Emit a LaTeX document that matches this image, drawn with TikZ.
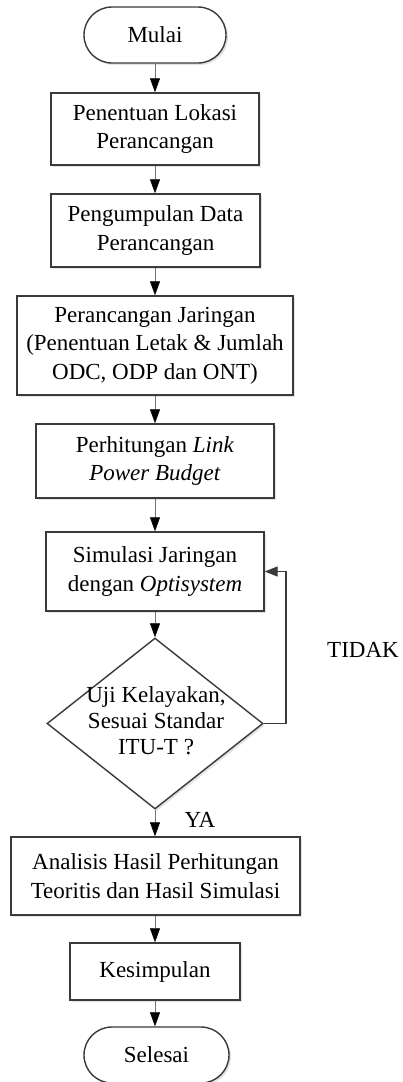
\documentclass[tikz,border=0pt]{standalone}
\usepackage{fontspec}
\setmainfont{Liberation Serif}
\usetikzlibrary{shapes.geometric,shapes.misc,arrows.meta,shadows}
\definecolor{edge}{HTML}{3A3A3A}
\newcommand\diagfont{\fontsize{23}{28.5}\selectfont}
\tikzset{
  base/.style={draw=edge, line width=1.4pt, fill=white, font=\diagfont, align=center, inner sep=0pt,
    drop shadow={shadow xshift=2pt, shadow yshift=-2pt, fill=black!22}},
  procbox/.style={base, rectangle},
  term/.style={base, rounded rectangle},
  decision/.style={base, diamond},
  lbl/.style={font=\diagfont, align=center, inner sep=0pt},
  conn/.style={draw=black!55, line width=0.7pt, -{Triangle[width=10pt,length=14pt,color=black]}},
  fb/.style={draw=edge, line width=1.4pt, -{Triangle[width=10pt,length=13pt]}},
}
\begin{document}
\begin{tikzpicture}[x=1pt,y=-1pt]
\useasboundingbox (0,0) rectangle (402,1082);
\node[term, minimum width=142pt, minimum height=56pt] (m) at (155,35) {Mulai};
\node[procbox, minimum width=208pt, minimum height=72pt] (b1) at (155,129) {Penentuan Lokasi\\Perancangan};
\node[procbox, minimum width=209pt, minimum height=73pt] (b2) at (155.5,230.5) {Pengumpulan Data\\Perancangan};
\node[procbox, minimum width=276pt, minimum height=99pt] (b3) at (155,345.5) {Perancangan Jaringan\\(Penentuan Letak \& Jumlah\\ODC, ODP dan ONT)};
\node[procbox, minimum width=238pt, minimum height=74pt] (b4) at (155,461) {Perhitungan \textit{Link}\\\textit{Power Budget}};
\node[procbox, minimum width=218pt, minimum height=79pt] (b5) at (155,571.5) {Simulasi Jaringan\\dengan \textit{Optisystem}};
\node[decision, minimum width=216pt, minimum height=171pt] (d) at (155,723.5) {};
\node[lbl] (dt) at (156,721) {Uji Kelayakan,\\[-2.5pt]Sesuai Standar\\[-2.5pt]ITU-T ?};
\node[procbox, minimum width=289pt, minimum height=78pt] (b6) at (155.5,876) {Analisis Hasil Perhitungan\\Teoritis dan Hasil Simulasi};
\node[procbox, minimum width=170pt, minimum height=57pt] (b7) at (155,971.5) {Kesimpulan};
\node[term, minimum width=145pt, minimum height=56pt] (s) at (156.5,1055) {Selesai};
\node[lbl] (tidak) at (363,650) {TIDAK};
\node[lbl] (ya) at (200,820) {YA};
\coordinate (fbc) at (286,723.5);
\draw[conn] (m.south) -- (b1.north);
\draw[conn] (b1.south) -- (b1.south |- b2.north);
\draw[conn] (b2.south -| b1.south) -- (b1.south |- b3.north);
\draw[conn] (b3.south) -- (b4.north);
\draw[conn] (b4.south) -- (b5.north);
\draw[conn] (b5.south) -- (d.north);
\draw[conn] (d.south) -- (d.south |- b6.north);
\draw[conn] (b6.south -| d.south) -- (d.south |- b7.north);
\draw[conn] (b7.south) -- (b7.south |- s.north);
\draw[fb] (d.east) -- (fbc) |- (b5.east);
\end{tikzpicture}
\end{document}
